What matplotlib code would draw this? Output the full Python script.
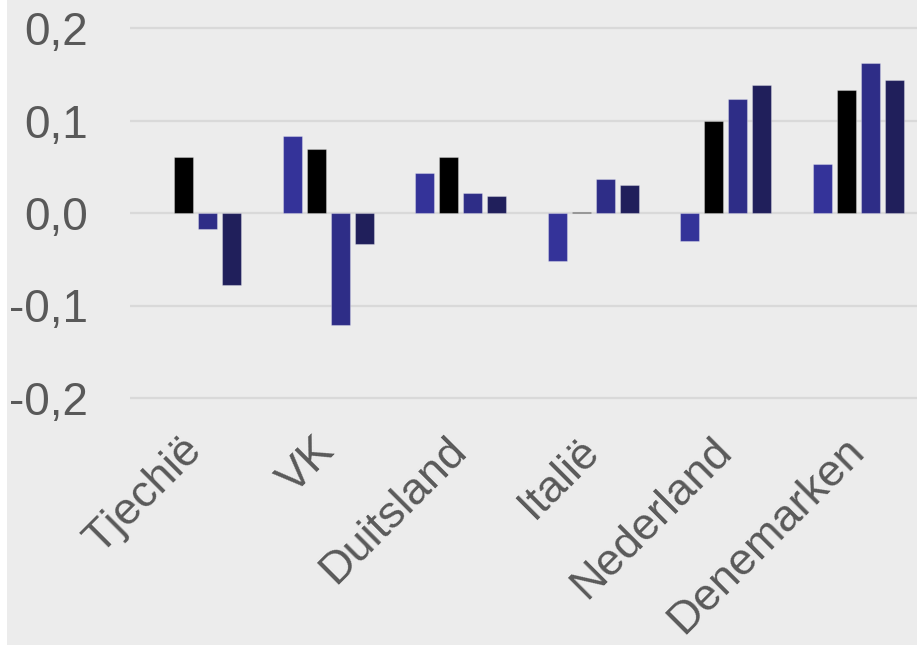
import matplotlib
matplotlib.use("Agg")
import matplotlib.pyplot as plt
import matplotlib.transforms as mtransforms
from matplotlib.patches import Rectangle
import numpy as np

categories = ["Tjechië", "VK", "Duitsland", "Italië", "Nederland", "Denemarken"]
series_a = [np.nan, 0.083, 0.043, -0.0515, -0.0305, 0.0525]
series_b = [0.0605, 0.0695, 0.061, 0.001, 0.100, 0.1335]
series_c = [-0.017, -0.121, 0.022, 0.0365, 0.123, 0.162]
series_d = [-0.0775, -0.034, 0.0187, 0.0305, 0.1387, 0.144]
yticks = [-0.2, -0.1, 0.0, 0.1, 0.2]
ytick_labels = ["-0,2", "-0,1", "0,0", "0,1", "0,2"]

colors = ["#343399", "#000000", "#2e2d87", "#201f5b"]

W, H = 917, 645
fig = plt.figure(figsize=(W / 100, H / 100), dpi=100)
fig.patch.set_facecolor("white")
fig.patches.append(Rectangle((7 / W, 0), 1 - 7 / W, 1, transform=fig.transFigure,
                             facecolor="#ececec", edgecolor="none", zorder=-10))

ax_left = 130 / W
ax_bottom = 1 - 420 / H
ax = fig.add_axes([ax_left, ax_bottom, 1 - ax_left, 420 / H])
ax.set_facecolor("none")

x = np.arange(len(categories))
pitch = 24 / 132.5
width = 19 / 132.5
for i, (vals, c) in enumerate(zip([series_a, series_b, series_c, series_d], colors)):
    ax.bar(x + (i - 1.5) * pitch, vals, width=width, color=c,
           edgecolor=(1, 1, 1, 0.3), linewidth=0.8, zorder=3)

ax.set_xlim(-0.497, -0.497 + (W - 130) / 132.5)
ytop = 0.2 + 28 / 925
ax.set_ylim(ytop - 420 / 925, ytop)

ax.set_yticks(yticks)
ax.set_yticklabels(ytick_labels)
ax.yaxis.grid(True, color="#d9d9d9", linewidth=1.6, zorder=0)
ax.xaxis.grid(False)
for s in ax.spines.values():
    s.set_visible(False)

ax.tick_params(axis="y", length=0, pad=30, labelsize=33, labelcolor="#595959")
ax.tick_params(axis="x", length=0, pad=7, labelsize=32.5, labelcolor="#595959")
ax.set_xticks(x)
ax.set_xticklabels(categories, rotation=45, ha="right", va="top")
offset = mtransforms.ScaledTranslation(14 / 100, 0, fig.dpi_scale_trans)
for lab in ax.get_xticklabels():
    lab.set_transform(lab.get_transform() + offset)

for lab in ax.get_xticklabels() + ax.get_yticklabels():
    lab.set_fontfamily(["Liberation Sans", "DejaVu Sans"])

fig.savefig("out.png", dpi=100, facecolor=fig.get_facecolor())
